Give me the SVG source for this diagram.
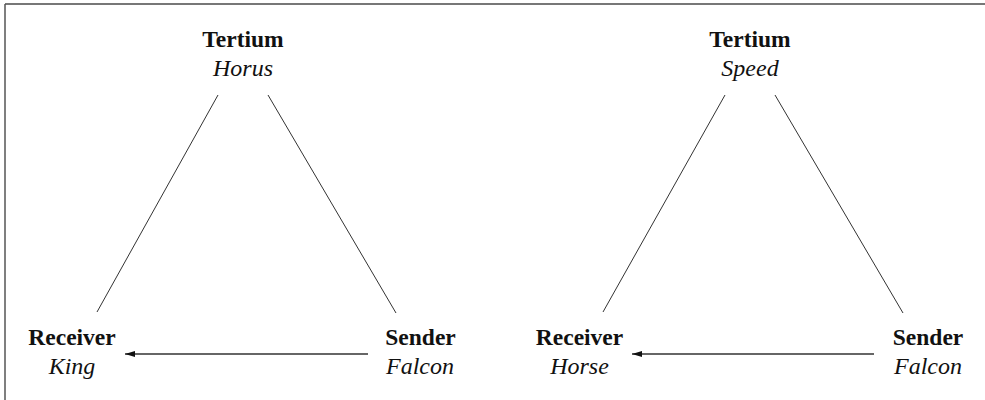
<svg xmlns="http://www.w3.org/2000/svg" width="985" height="400" viewBox="0 0 985 400">
<defs>
<style>
.t{font-family:"Liberation Serif","Times New Roman",serif;text-anchor:middle;fill:#111}
.b{font-weight:bold;font-size:23.5px}
.i{font-style:italic;font-size:24px}
.l{stroke:#333;stroke-width:1;fill:none}
.a{stroke:#333;stroke-width:1.3;fill:none;marker-end:url(#ah)}
</style>
<marker id="ah" viewBox="0 0 10 6" refX="10" refY="3" markerWidth="10" markerHeight="6" markerUnits="userSpaceOnUse" orient="auto">
<path d="M0,0 L10,3 L0,6 z" fill="#111"/>
</marker>
</defs>
<rect width="985" height="400" fill="#fff"/>
<g id="frame">
<line x1="5" y1="4" x2="985" y2="4" stroke="#777" stroke-width="2"/>
<line x1="5" y1="4" x2="5" y2="400" stroke="#555" stroke-width="1.5"/>
</g>
<g id="connectors">
<line class="l" x1="218" y1="95" x2="97" y2="312"/>
<line class="l" x1="268" y1="95" x2="396" y2="313"/>
<line class="a" x1="368" y1="354" x2="125" y2="354"/>
<line class="l" x1="725" y1="95" x2="603" y2="312"/>
<line class="l" x1="775" y1="95" x2="903" y2="313"/>
<line class="a" x1="874" y1="354" x2="632" y2="354"/>
</g>
<g id="tertium1"><text class="t b" x="243" y="47">Tertium</text><text class="t i" x="243" y="76">Horus</text></g>
<g id="receiver1"><text class="t b" x="72" y="345">Receiver</text><text class="t i" x="72" y="374">King</text></g>
<g id="sender1"><text class="t b" x="420.5" y="345">Sender</text><text class="t i" x="420" y="374">Falcon</text></g>
<g id="tertium2"><text class="t b" x="750" y="47">Tertium</text><text class="t i" x="750" y="76">Speed</text></g>
<g id="receiver2"><text class="t b" x="579.5" y="345">Receiver</text><text class="t i" x="579.5" y="374">Horse</text></g>
<g id="sender2"><text class="t b" x="928" y="345">Sender</text><text class="t i" x="928" y="374">Falcon</text></g>
</svg>
